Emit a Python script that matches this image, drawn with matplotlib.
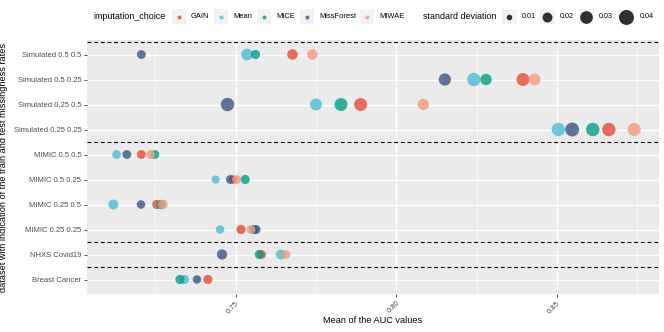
import numpy as np
import matplotlib
matplotlib.use("Agg")
import matplotlib.pyplot as plt
from matplotlib.patches import Rectangle

plt.rcParams["font.family"] = ["Liberation Sans", "DejaVu Sans"]

# rows from top to bottom
datasets = [
    "Simulated 0.5 0.5", "Simulated 0.5 0.25", "Simulated 0.25 0.5",
    "Simulated 0.25 0.25", "MIMIC 0.5 0.5", "MIMIC 0.5 0.25",
    "MIMIC 0.25 0.5", "MIMIC 0.25 0.25", "NHXS Covid19", "Breast Cancer",
]
methods = ["GAIN", "Mean", "MICE", "MissForest", "MIWAE"]
colors = ["#E64B35", "#4DBBD5", "#00A087", "#3C5488", "#F39B7F"]

auc_mean = {
    "GAIN":       [0.7677, 0.8394, 0.7889, 0.8661, 0.7207, 0.7492, 0.7255, 0.7517, 0.7581, 0.7414],
    "Mean":       [0.7536, 0.8241, 0.7750, 0.8504, 0.7130, 0.7438, 0.7120, 0.7452, 0.7641, 0.7341],
    "MICE":       [0.7562, 0.8279, 0.7828, 0.8611, 0.7249, 0.7530, 0.7268, 0.7557, 0.7574, 0.7327],
    "MissForest": [0.7207, 0.8151, 0.7475, 0.8547, 0.7162, 0.7484, 0.7206, 0.7564, 0.7458, 0.7380],
    "MIWAE":      [0.7739, 0.8430, 0.8084, 0.8740, 0.7236, 0.7503, 0.7274, 0.7548, 0.7657, np.nan],
}
auc_sd = {
    "GAIN":       [0.022, 0.031, 0.031, 0.033, 0.017, 0.016, 0.018, 0.018, 0.017, 0.018],
    "Mean":       [0.026, 0.033, 0.027, 0.033, 0.017, 0.015, 0.020, 0.016, 0.020, 0.018],
    "MICE":       [0.018, 0.025, 0.031, 0.033, 0.017, 0.018, 0.018, 0.018, 0.018, 0.018],
    "MissForest": [0.017, 0.028, 0.033, 0.035, 0.017, 0.017, 0.016, 0.017, 0.021, 0.016],
    "MIWAE":      [0.022, 0.027, 0.025, 0.031, 0.017, 0.017, 0.019, 0.017, 0.017, np.nan],
}
sd_breaks = [0.01, 0.02, 0.03, 0.04]
group_breaks = [10.5, 6.5, 2.5, 1.5]

PX = 72 / 100  # points per pixel


def sd_to_px(sd):
    t = np.sqrt(np.clip((np.asarray(sd) - 0.007) / 0.036, 0, 1))
    return 1.5 + 14 * t


def sd_to_s(sd):
    return (sd_to_px(sd) * PX) ** 2


fig = plt.figure(figsize=(6.64, 3.32), dpi=100)
ax = fig.add_axes([87 / 664, 38 / 332, 572 / 664, 254 / 332])
ax.set_facecolor("#EBEBEB")
for sp in ax.spines.values():
    sp.set_visible(False)

ypos = np.arange(len(datasets), 0, -1)
for m, c in zip(methods, colors):
    ax.scatter(auc_mean[m], ypos, s=sd_to_s(auc_sd[m]), color=c,
               alpha=0.8, linewidths=0, zorder=3)

for y in group_breaks:
    ax.axhline(y, color="black", lw=0.8, ls=(0, (3.5, 2.5)), zorder=2)

ax.set_xlim(0.7038, 0.8817)
ax.set_ylim(0.42, 10.58)
ax.set_xticks([0.75, 0.80, 0.85])
ax.set_xticklabels(["0.75", "0.80", "0.85"], rotation=45, ha="right",
                   va="top", rotation_mode="anchor")
ax.set_xticks([0.725, 0.775, 0.825, 0.875], minor=True)
ax.set_yticks(ypos)
ax.set_yticklabels(datasets)
ax.grid(which="major", color="white", lw=1.0, zorder=0)
ax.grid(which="minor", axis="x", color="white", lw=0.5, zorder=0)
ax.set_axisbelow(True)
ax.tick_params(which="major", length=2.5, width=0.6, color="#333333",
               labelcolor="#4D4D4D", labelsize=5.5, pad=1.5)
ax.tick_params(which="minor", length=0)
ax.set_xlabel("Mean of the AUC values", fontsize=6.6, labelpad=1)
ax.set_ylabel("dataset with indication of the train and test missingness rates",
              fontsize=6.6, labelpad=4)

# legend drawn in pixel coordinates on an overlay
lg = fig.add_axes([0, 0, 1, 1])
lg.set_xlim(0, 664)
lg.set_ylim(332, 0)
lg.axis("off")
ly = 16.7
lg.text(93, ly, "imputation_choice", fontsize=6.4, va="center", ha="left")
key_x = [179, 221, 264, 307, 367]
for m, c, kx in zip(methods, colors, key_x):
    lg.add_patch(Rectangle((kx - 7, ly - 7.5), 14, 15, facecolor="#F2F2F2",
                           edgecolor="none"))
    lg.scatter([kx], [ly], s=(4 * PX) ** 2, color=c, alpha=0.8, linewidths=0)
    lg.text(kx + 12, ly, m, fontsize=5.4, va="center", ha="left")

lg.text(423, ly, "standard deviation", fontsize=6.4, va="center", ha="left")
size_x = [509, 547, 586, 626]
for b, kx in zip(sd_breaks, size_x):
    w = max(15, sd_to_px(b) + 2)
    lg.add_patch(Rectangle((kx - w / 2, ly - 7.5), w, 15, facecolor="#F2F2F2",
                           edgecolor="none"))
    lg.scatter([kx], [ly], s=sd_to_s(b), color="black", alpha=0.8, linewidths=0)
    lg.text(kx + w / 2 + 5, ly, f"{b:.2f}", fontsize=5.2, va="center", ha="left")

fig.savefig("out.png", dpi=100)
